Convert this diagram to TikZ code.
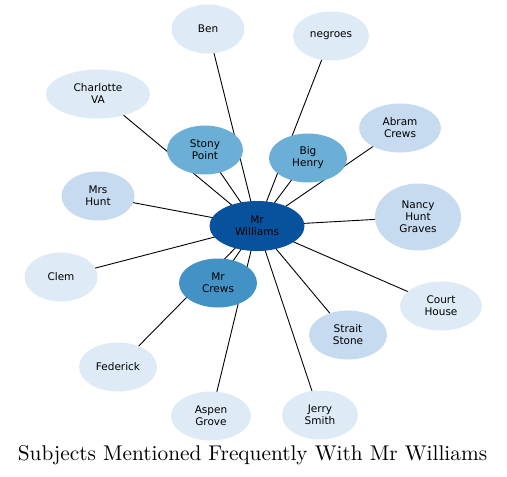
\documentclass[tikz,border=0pt]{standalone}
\usepackage{fontspec}
\newfontfamily\nodefont{DejaVu Sans}
\usetikzlibrary{shapes.geometric}
\definecolor{cdark}{HTML}{08519C}
\definecolor{cmid}{HTML}{4292C6}
\definecolor{cmed}{HTML}{6BAED6}
\definecolor{clite}{HTML}{C6DBEF}
\definecolor{cpale}{HTML}{DEEBF7}
\pgfdeclarelayer{bg}
\pgfsetlayers{bg,main}
\tikzset{
  bub/.style={ellipse, inner sep=0pt, minimum width=#1, minimum height=49pt, align=center,
    font=\nodefont\fontsize{10.5}{12}\selectfont, text=black},
  edge/.style={draw=black, line width=0.9pt}
}
\begin{document}
\begin{tikzpicture}[x=1pt,y=-1pt]
\useasboundingbox (0,0) rectangle (507,477);
\node[bub=95pt, minimum height=50pt, fill=cdark] (mw) at (257,226) {Mr\\Williams};
\node[bub=73pt, fill=cpale] (ben) at (208,29) {Ben};
\node[bub=76pt, fill=cpale] (neg) at (331,36) {negroes};
\node[bub=104pt, fill=cpale] (cha) at (98,94) {Charlotte\\VA};
\node[bub=76pt, fill=cmed] (sto) at (205,150) {Stony\\Point};
\node[bub=78pt, fill=cmed] (big) at (308,158) {Big\\Henry};
\node[bub=82pt, fill=clite] (abr) at (400,128) {Abram\\Crews};
\node[bub=73pt, fill=clite] (mrs) at (98,196) {Mrs\\Hunt};
\node[bub=86pt, minimum height=67pt, fill=clite] (nan) at (418,217) {Nancy\\Hunt\\Graves};
\node[bub=73pt, fill=cpale] (cle) at (61,277) {Clem};
\node[bub=78pt, fill=cmid] (mrc) at (218,283) {Mr\\Crews};
\node[bub=82pt, fill=cpale] (cou) at (441,306) {Court\\House};
\node[bub=78pt, fill=clite] (str) at (348,335) {Strait\\Stone};
\node[bub=78pt, fill=cpale] (fed) at (118,367) {Federick};
\node[bub=80pt, fill=cpale] (asp) at (211,416) {Aspen\\Grove};
\node[bub=76pt, fill=cpale] (jer) at (320,415) {Jerry\\Smith};
\begin{pgfonlayer}{bg}
\foreach \n in {ben,neg,cha,sto,big,abr,mrs,nan,cle,mrc,cou,str,fed,asp,jer}
  \draw[edge] (mw.center) -- (\n.center);
\end{pgfonlayer}
\node[font=\fontsize{10}{12}\selectfont, scale=2.13, inner sep=0pt] (title) at (252.5,455) {Subjects Mentioned Frequently With Mr Williams};
\end{tikzpicture}
\end{document}
